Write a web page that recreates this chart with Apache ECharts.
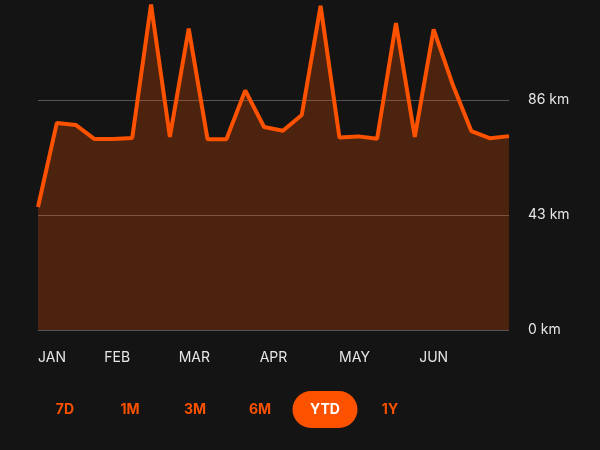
<!DOCTYPE html>
<html>
<head>
<meta charset="utf-8">
<script src="https://cdn.jsdelivr.net/npm/echarts@6/dist/echarts.min.js"></script>
<style>
html,body{margin:0;padding:0;background:#141414;}
#chart{width:600px;height:450px;}
</style>
</head>
<body>
<div id="chart"></div>
<script>
// weekly distance (km), year to date
var weeks = [0,1,2,3,4,5,6,7,8,9,10,11,12,13,14,15,16,17,18,19,20,21,22,23,24,25];
var distances = [46.0, 77.4, 76.7, 71.4, 71.4, 71.8, 121.7, 72.2, 112.7, 71.3, 71.3, 89.6, 75.9, 74.5, 80.4, 121.2, 72.0, 72.4, 71.5, 114.8, 72.2, 112.4, 92.0, 74.4, 71.7, 72.5];
var monthLabels = ['JAN', 'FEB', 'MAR', 'APR', 'MAY', 'JUN'];
var monthPos = [0, 4.2, 8.3, 12.5, 16.8, 21.0]; // in weeks from first point
var yTicks = [0, 43, 86];
var yMax = 123.4;
var ranges = ['7D', '1M', '3M', '6M', 'YTD', '1Y'];
var selectedRange = 'YTD';

var chart = echarts.init(document.getElementById('chart'), null, {renderer: 'canvas'});

var seriesData = weeks.map(function (w, i) { return [w, distances[i]]; });

var graphics = [];
ranges.forEach(function (r, i) {
  var cx = 65 + i * 65;
  if (r === selectedRange) {
    graphics.push({
      type: 'rect',
      shape: {x: cx - 32.5, y: 391, width: 65, height: 37, r: 18.5},
      style: {fill: '#fc5200'}
    });
  }
  graphics.push({
    type: 'text',
    x: cx, y: 410,
    style: {
      text: r,
      fill: r === selectedRange ? '#ffffff' : '#fc5200',
      font: 'bold 14px Inter, "Noto Sans", sans-serif',
      align: 'center',
      verticalAlign: 'middle'
    }
  });
});

chart.setOption({
  backgroundColor: '#141414',
  animation: false,
  grid: {left: 38, right: 91, top: 0, bottom: 120, containLabel: false},
  xAxis: {
    type: 'value',
    min: 0,
    max: 25,
    interval: 0.1,
    axisLine: {show: false},
    axisTick: {show: false},
    splitLine: {show: false},
    axisLabel: {
      color: '#e6e6e6',
      fontFamily: 'Inter',
      fontSize: 14,
      margin: 21,
      alignMinLabel: 'left',
      showMinLabel: true,
      formatter: function (v) {
        for (var i = 0; i < monthPos.length; i++) {
          if (Math.abs(v - monthPos[i]) < 0.05) return monthLabels[i];
        }
        return '';
      }
    }
  },
  yAxis: {
    type: 'value',
    position: 'right',
    min: 0,
    max: yMax,
    interval: 43,
    axisLine: {show: false},
    axisTick: {show: false},
    splitLine: {show: true, showMaxLine: false, lineStyle: {color: '#555555', width: 1}},
    axisLabel: {
      color: '#e6e6e6',
      fontFamily: 'Inter',
      fontSize: 14,
      margin: 19,
      showMaxLabel: false,
      formatter: function (v) { return yTicks.indexOf(v) >= 0 ? v + ' km' : ''; }
    }
  },
  series: [{
    type: 'line',
    data: seriesData,
    symbol: 'none',
    clip: false,
    lineStyle: {color: '#fc5200', width: 4},
    areaStyle: {color: '#fc5200', opacity: 0.24},
    z: 3
  }],
  graphic: graphics
});
</script>
</body>
</html>
